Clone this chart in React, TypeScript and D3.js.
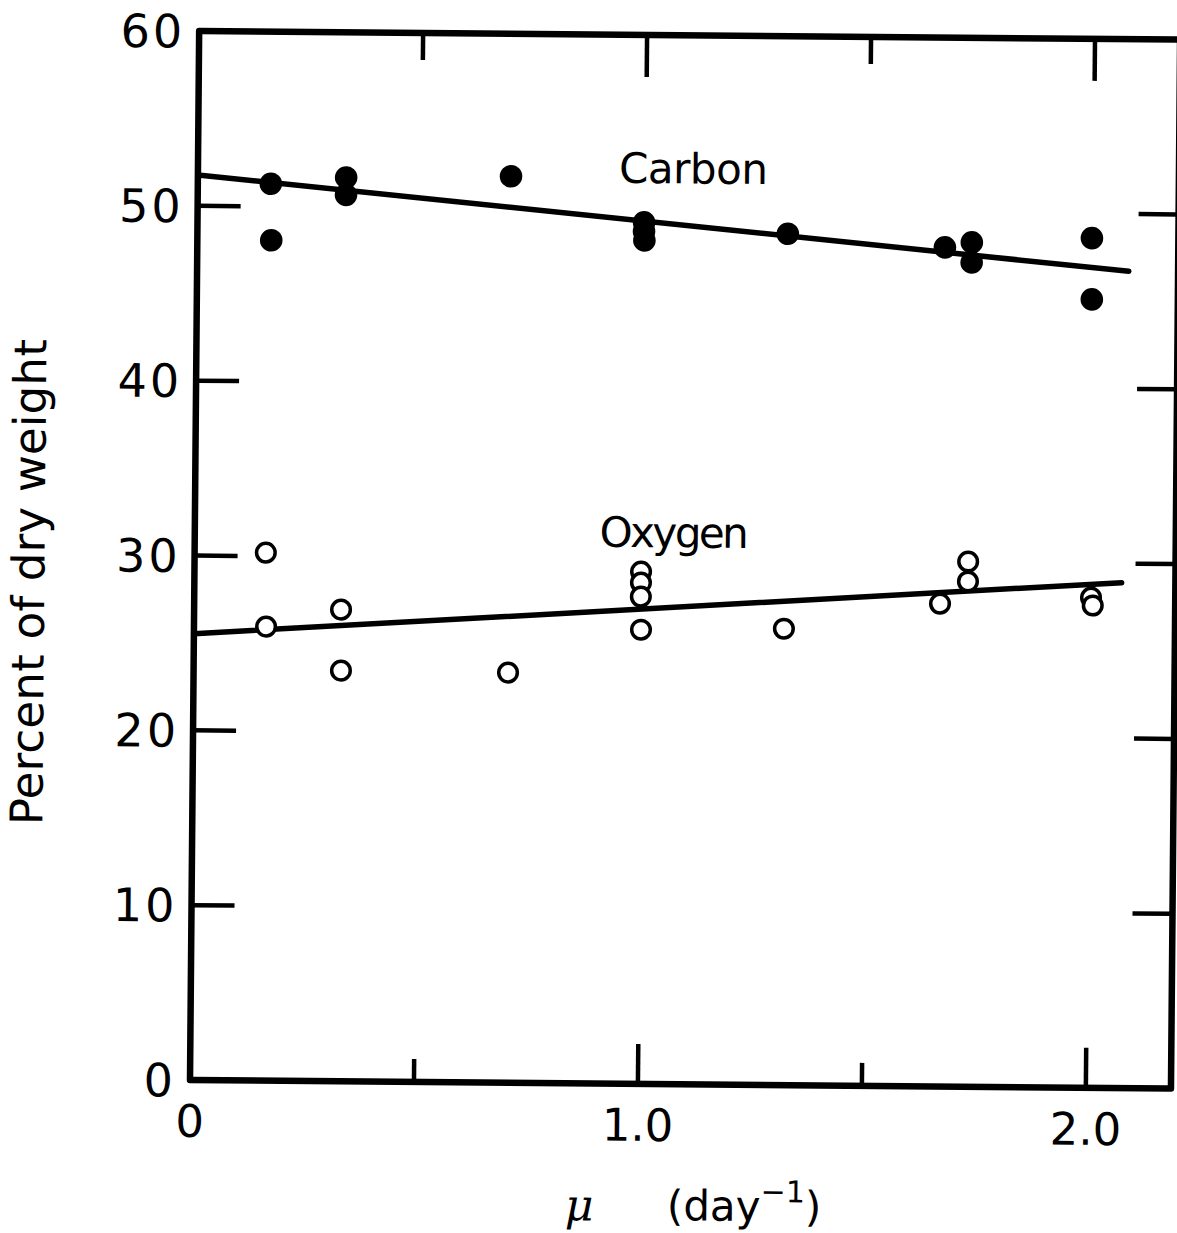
import React from 'react';
import * as d3 from 'd3';

// ---- data ----
const carbonMu = [0.163, 0.165, 0.331, 0.331, 0.699, 0.997, 0.997, 0.998, 1.318, 1.669, 1.729, 1.729, 1.997, 1.998];
const carbonPct = [51.3, 48.07, 51.7, 50.7, 51.85, 49.28, 48.77, 48.25, 48.7, 48.0, 48.3, 47.15, 48.6, 45.1];

const oxygenMu = [0.159, 0.161, 0.328, 0.329, 0.702, 0.997, 0.997, 0.997, 0.998, 1.317, 1.665, 1.727, 1.727, 2.002, 2.006];
const oxygenPct = [30.2, 25.97, 26.98, 23.49, 23.46, 29.3, 28.67, 27.87, 25.98, 26.11, 27.62, 30.04, 28.9, 28.04, 27.59];

const carbonFitMu = [0, 2.08];
const carbonFitPct = [51.77, 46.72];
const oxygenFitMu = [0, 2.07];
const oxygenFitPct = [25.53, 28.91];

const xMajorTicks = [0, 1, 2];
const xMajorLabels = ['0', '1.0', '2.0'];
const xMinorTicks = [0.5, 1.5];
const yTicks = [0, 10, 20, 30, 40, 50, 60];
const yTickLabels = ['0', '10', '20', '30', '40', '50', '60'];
const xDomain = [0, 2.19];
const yDomain = [0, 60];

const W = 1177;
const H = 1233;
const FONT = '"DejaVu Sans", sans-serif';

export default function App() {
  const x = d3.scaleLinear().domain(xDomain).range([190, 1171]);
  const y = d3.scaleLinear().domain(yDomain).range([1080, 31]);
  const x0 = x(xDomain[0]);
  const x1 = x(xDomain[1]);
  const yb = y(yDomain[0]);
  const yt = y(yDomain[1]);

  const line = d3
    .line<[number, number]>()
    .x((d) => x(d[0]))
    .y((d) => y(d[1]));

  const carbonFit = carbonFitMu.map((m, i) => [m, carbonFitPct[i]] as [number, number]);
  const oxygenFit = oxygenFitMu.map((m, i) => [m, oxygenFitPct[i]] as [number, number]);

  const inner = yTicks.filter((t) => t > yDomain[0] && t < yDomain[1]);

  return (
    <svg
      width={W}
      height={H}
      viewBox={`0 0 ${W} ${H}`}
      style={{ position: 'absolute', left: 0, top: 0, background: '#fff' }}
    >
      <rect x={0} y={0} width={W} height={H} fill="#fff" />
      <g transform={`rotate(0.5 ${x0} ${yb})`} fill="#000" fontFamily={FONT}>
        {/* frame */}
        <rect x={x0} y={yt} width={x1 - x0} height={yb - yt} fill="none" stroke="#000" strokeWidth={6.5} strokeLinejoin="round" />

        {/* bottom ticks */}
        {xMajorTicks.filter((t) => t > 0).map((t) => (
          <line key={'bM' + t} x1={x(t)} x2={x(t)} y1={yb} y2={yb - 40} stroke="#000" strokeWidth={4.5} />
        ))}
        {xMinorTicks.map((t) => (
          <line key={'bm' + t} x1={x(t)} x2={x(t)} y1={yb} y2={yb - 23} stroke="#000" strokeWidth={4.5} />
        ))}
        {/* top ticks */}
        {xMajorTicks.filter((t) => t > 0).map((t) => (
          <line key={'tM' + t} x1={x(t)} x2={x(t)} y1={yt} y2={yt + 42} stroke="#000" strokeWidth={4.5} />
        ))}
        {xMinorTicks.map((t) => (
          <line key={'tm' + t} x1={x(t)} x2={x(t)} y1={yt} y2={yt + 27} stroke="#000" strokeWidth={4.5} />
        ))}
        {/* left / right ticks */}
        {inner.map((t) => (
          <line key={'l' + t} x1={x0} x2={x0 + 43} y1={y(t)} y2={y(t)} stroke="#000" strokeWidth={4.5} />
        ))}
        {inner.map((t) => (
          <line key={'r' + t} x1={x1} x2={x1 - 40} y1={y(t)} y2={y(t)} stroke="#000" strokeWidth={4.5} />
        ))}

        {/* tick labels */}
        {xMajorTicks.map((t, i) => (
          <text key={'xl' + t} x={x(t)} y={yb + 57} fontSize={45} textAnchor="middle">
            {xMajorLabels[i]}
          </text>
        ))}
        {yTicks.map((t, i) => (
          <text key={'yl' + t} x={x0 - 14} y={y(t)} dy="0.36em" fontSize={46} textAnchor="end" letterSpacing={3}>
            {yTickLabels[i]}
          </text>
        ))}

        {/* axis titles */}
        <text
          transform={`translate(40, ${(yb + yt) / 2 + 28}) rotate(-90)`}
          fontSize={45}
          textAnchor="middle"
          textLength={486}
          lengthAdjust="spacing"
        >
          Percent of dry weight
        </text>
        <text x={566} y={1217} fontSize={44} fontStyle="italic" fontFamily='"DejaVu Serif", serif'>
          μ
        </text>
        <text x={668} y={1216} fontSize={42}>
          (day
          <tspan dy={-19} fontSize={30}>−1</tspan>
          <tspan dy={19}>)</tspan>
        </text>

        {/* fit lines */}
        <path d={line(carbonFit) || ''} fill="none" stroke="#000" strokeWidth={5.5} strokeLinecap="round" />
        <path d={line(oxygenFit) || ''} fill="none" stroke="#000" strokeWidth={5.5} strokeLinecap="round" />

        {/* points */}
        {carbonMu.map((m, i) => (
          <circle key={'c' + i} cx={x(m)} cy={y(carbonPct[i])} r={11.3} fill="#000" />
        ))}
        {oxygenMu.map((m, i) => (
          <circle key={'o' + i} cx={x(m)} cy={y(oxygenPct[i])} r={9.3} fill="#fff" stroke="#000" strokeWidth={3.5} />
        ))}

        {/* series labels */}
        <text x={x(0.94)} y={y(51.53)} fontSize={42} textLength={149} lengthAdjust="spacing">
          Carbon
        </text>
        <text x={x(0.904)} y={y(30.7)} fontSize={42} textLength={149} lengthAdjust="spacing">
          Oxygen
        </text>
      </g>
    </svg>
  );
}
